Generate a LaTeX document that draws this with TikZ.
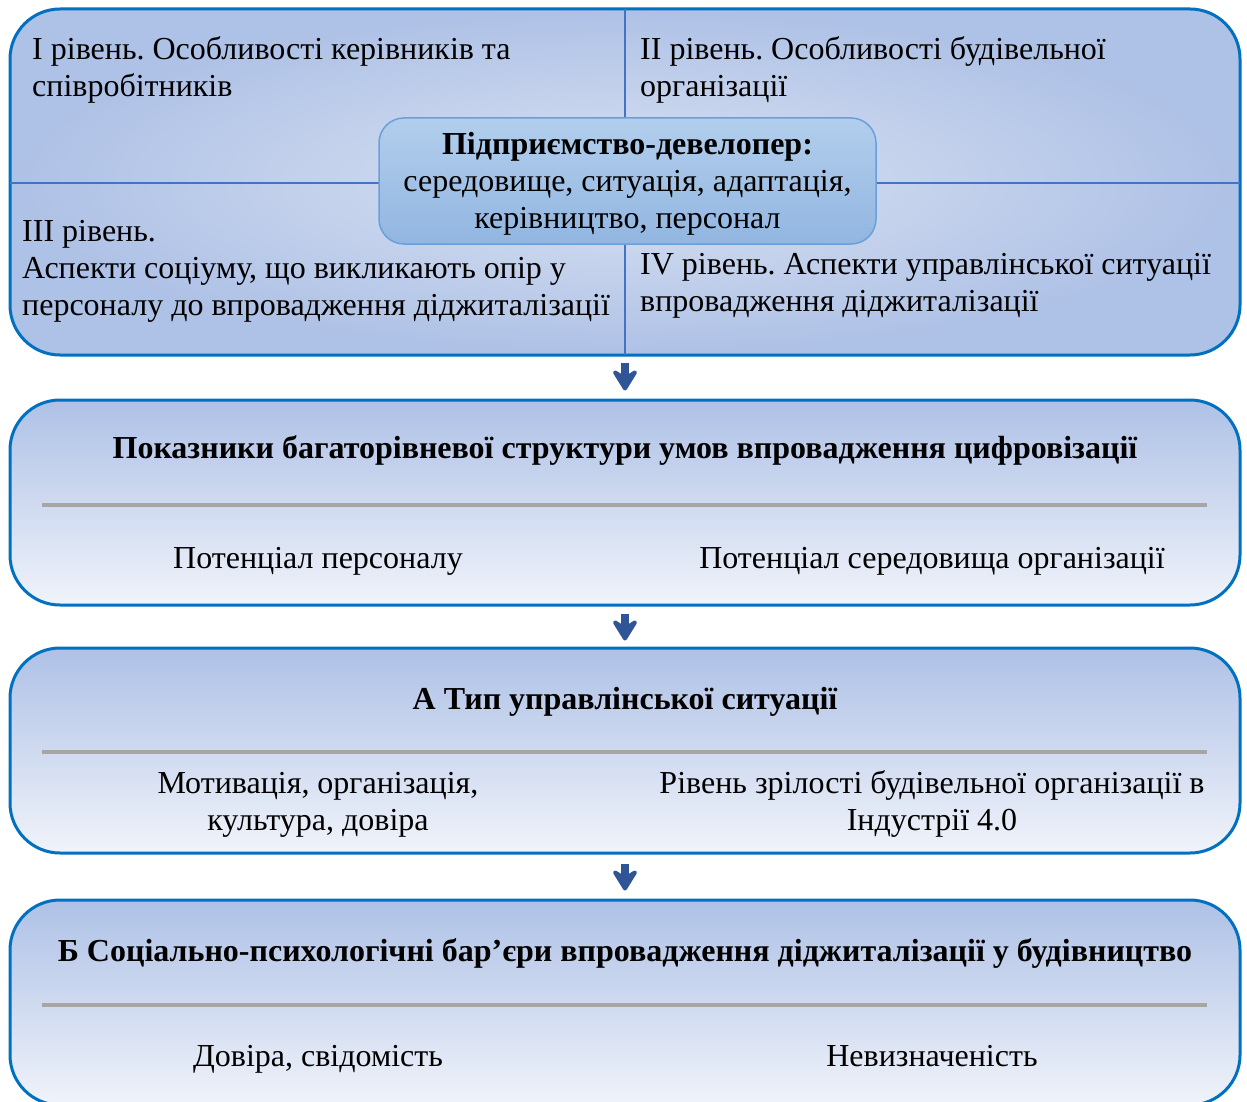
\documentclass[tikz,border=0pt]{standalone}
\usepackage{fontspec}
\setmainfont{Liberation Serif}
\frenchspacing
\usetikzlibrary{arrows.meta}
\definecolor{bordblue}{HTML}{0070C0}
\definecolor{crossblue}{HTML}{4472C4}
\definecolor{outerblue}{HTML}{AEC1E6}
\definecolor{innerblue}{HTML}{DAE2F2}
\definecolor{ctop}{HTML}{B2CEEC}
\definecolor{cbot}{HTML}{92B6E1}
\definecolor{cbord}{HTML}{6A9FDC}
\definecolor{lowbot}{HTML}{F0F3FA}
\definecolor{sepgray}{HTML}{A6A6A6}
\definecolor{arrblue}{HTML}{2F5597}
\tikzset{
  txt/.style={font=\fontsize{32}{37}\selectfont, inner sep=0pt, text=black},
  ttl/.style={txt, font=\fontsize{32}{37}\selectfont\bfseries},
  topbox/.style={draw=bordblue, line width=3pt, rounded corners=50pt, inner color=innerblue, outer color=outerblue, minimum width=1230pt, minimum height=346pt},
  lowbox/.style={draw=bordblue, line width=3pt, rounded corners=50pt, top color=outerblue, bottom color=lowbot, minimum width=1230pt, minimum height=205pt},
  centbox/.style={draw=cbord, line width=1.5pt, rounded corners=25pt, top color=ctop, bottom color=cbot, minimum width=497pt, minimum height=126pt, align=center},
  crossln/.style={draw=crossblue, line width=2.8pt},
  sepln/.style={draw=sepgray, line width=3.5pt},
  downarr/.style={draw=arrblue, line width=8pt, line join=round, -{Stealth[width=32pt,length=26pt,inset=10pt,round]}}
}
\begin{document}
\begin{tikzpicture}[x=1pt,y=-1pt]
\useasboundingbox (0,0) rectangle (1247,1102);
% top box
\node[topbox] (b1) at (625,182) {};
\coordinate (vt) at (625,9);
\coordinate (vb) at (625,355);
\coordinate (hl) at (10,183);
\coordinate (hr) at (1240,183);
\draw[crossln] (vt) -- (vb);
\draw[crossln] (hl) -- (hr);
\node[centbox] (c) at (627.5,181) {};
\node[txt, align=center, anchor=base] (ct) at (627.5,229) {\textbf{Підприємство-девелопер:}\\середовище, ситуація, адаптація,\\керівництво, персонал};
\node[txt, align=left, anchor=base west] (t1) at (32,97) {І рівень. Особливості керівників та\\співробітників};
\node[txt, align=left, anchor=base west] (t2) at (640,97) {ІІ рівень. Особливості будівельної\\організації};
\node[txt, align=left, anchor=base west] (t3) at (22,315) {ІІІ рівень.\\Аспекти соціуму, що викликають опір у\\персоналу до впровадження діджиталізації};
\node[txt, align=left, anchor=base west] (t4) at (640,311) {IV рівень. Аспекти управлінської ситуації\\впровадження діджиталізації};
% box 2
\node[lowbox] (b2) at (625,502.5) {};
\node[ttl, anchor=base] (h2) at (625,458) {Показники багаторівневої структури умов впровадження цифровізації};
\coordinate (s2l) at (42,505);
\coordinate (s2r) at (1207,505);
\draw[sepln] (s2l) -- (s2r);
\node[txt, anchor=base] (p21) at (318,568) {Потенціал персоналу};
\node[txt, anchor=base] (p22) at (932,568) {Потенціал середовища організації};
% box 3
\node[lowbox] (b3) at (625,750.5) {};
\node[ttl, anchor=base] (h3) at (625,709) {А Тип управлінської ситуації};
\coordinate (s3l) at (42,752);
\coordinate (s3r) at (1207,752);
\draw[sepln] (s3l) -- (s3r);
\node[txt, align=center, anchor=base] (p31) at (318,830) {Мотивація, організація,\\культура, довіра};
\node[txt, align=center, anchor=base] (p32) at (932,830) {Рівень зрілості будівельної організації в\\Індустрії 4.0};
% box 4
\node[lowbox] (b4) at (625,1002.5) {};
\node[ttl, anchor=base] (h4) at (625,961) {Б Соціально-психологічні бар’єри впровадження діджиталізації у будівництво};
\coordinate (s4l) at (42,1005);
\coordinate (s4r) at (1207,1005);
\draw[sepln] (s4l) -- (s4r);
\node[txt, anchor=base] (p41) at (318,1066) {Довіра, свідомість};
\node[txt, anchor=base] (p42) at (932,1066) {Невизначеність};
% arrows
\draw[downarr] ([yshift=-6pt]b1.south) -- ([yshift=8pt]b2.north);
\draw[downarr] ([yshift=-7pt]b2.south) -- ([yshift=6pt]b3.north);
\draw[downarr] ([yshift=-9pt]b3.south) -- ([yshift=8pt]b4.north);
\end{tikzpicture}
\end{document}
